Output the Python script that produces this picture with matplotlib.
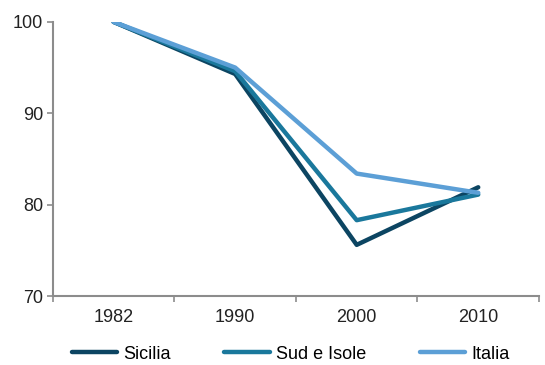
import numpy as np
import matplotlib.pyplot as plt

plt.rcParams['font.family'] = ['Liberation Sans', 'DejaVu Sans']

years = ["1982", "1990", "2000", "2010"]
sicilia = [100, 94.3, 75.6, 81.9]
sud_isole = [100, 94.6, 78.3, 81.1]
italia = [100, 95.0, 83.4, 81.3]

fig = plt.figure(figsize=(5.45, 3.65), dpi=100)
ax = fig.add_axes([0.097, 0.189, 0.892, 0.751])

x = np.arange(len(years))
ax.plot(x, sicilia, color='#0c4562', linewidth=3.2, label="Sicilia", solid_capstyle='round')
ax.plot(x, sud_isole, color='#1a789c', linewidth=3.2, label="Sud e Isole", solid_capstyle='round')
ax.plot(x, italia, color='#5c9fd6', linewidth=3.2, label="Italia", solid_capstyle='round')

ax.set_xlim(-0.5, len(years) - 0.5)
ax.set_ylim(70, 100)
ax.set_yticks([70, 80, 90, 100])

# tick marks at category boundaries, labels at centres
ax.set_xticks(np.arange(-0.5, len(years), 1.0))
ax.set_xticklabels([])
ax.set_xticks(x, minor=True)
ax.set_xticklabels(years, minor=True)
ax.tick_params(axis='x', which='minor', length=0, pad=9.5)
ax.tick_params(axis='x', which='major', length=4, width=1.2, color='#8c8c8c')
ax.tick_params(axis='y', length=4, width=1.2, color='#8c8c8c', pad=3)
ax.tick_params(labelsize=13, labelcolor='#222222', which='both')

for s in ['top', 'right']:
    ax.spines[s].set_visible(False)
for s in ['left', 'bottom']:
    ax.spines[s].set_color('#8c8c8c')
    ax.spines[s].set_linewidth(1.5)

fig.legend(loc='center', bbox_to_anchor=(0.533, 0.03), ncol=3, frameon=False,
           fontsize=13, handlelength=2.5, handletextpad=0.33, columnspacing=3.0,
           borderpad=0, borderaxespad=0)

fig.savefig("out.png", dpi=100)
